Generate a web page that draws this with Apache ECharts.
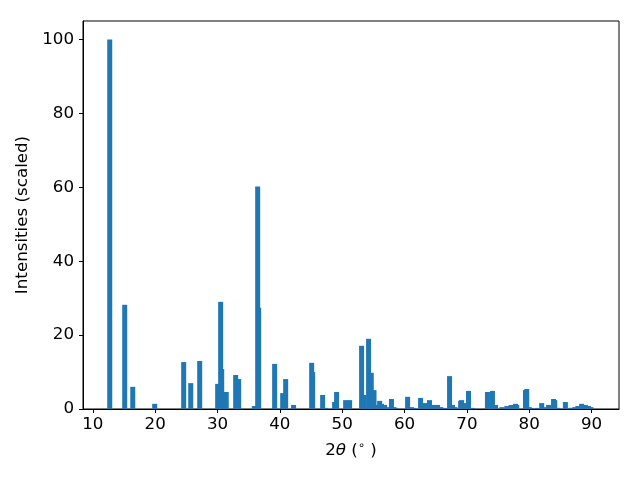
<!DOCTYPE html>
<html><head><meta charset="utf-8">
<script src="https://cdn.jsdelivr.net/npm/echarts@6/dist/echarts.min.js"></script>
<style>html,body{margin:0;padding:0;background:#fff}#c{width:640px;height:480px}</style>
</head><body><div id="c"></div>
<script>
const angles = [12.71,15.11,16.4,19.92,24.57,25.7,27.14,30.02,30.5,30.67,31.0,31.4,32.91,33.39,35.9,36.44,36.6,39.16,40.45,40.93,42.2,45.1,45.26,46.86,47.34,48.78,49.1,50.55,51.19,53.11,53.5,54.23,54.66,55.1,55.5,56.0,56.3,56.8,57.2,57.9,58.3,58.6,60.49,61.1,61.5,62.57,63.2,64.0,64.8,65.3,65.8,66.4,67.22,67.7,68.1,69.0,69.15,69.5,70.26,70.9,73.3,74.1,74.6,75.6,76.4,77.1,77.8,78.0,79.4,79.6,80.0,80.4,81.3,82.0,82.6,83.1,83.9,84.1,84.6,85.8,86.3,86.8,87.3,87.8,88.4,89.0,89.5,89.9];
const intensities = [100,28.2,6.0,1.4,12.7,7.0,13.0,6.8,29.0,10.8,4.6,4.6,9.2,8.1,0.8,60.2,27.4,12.2,4.3,8.1,1.1,12.5,10.0,3.8,0.3,1.9,4.6,2.4,2.4,17.1,3.8,19.0,9.8,5.1,1.1,2.2,1.4,1.1,0.5,2.7,0.5,0.3,3.3,0.5,0.3,3.0,1.6,2.4,1.1,1.1,0.5,0.3,8.9,1.1,0.5,2.2,2.4,1.6,4.9,0.3,4.6,4.9,1.1,0.5,0.8,1.1,1.4,1.1,5.1,5.4,0.5,0.3,0.3,1.6,0.5,1.1,2.7,2.4,0.3,1.9,0.3,0.3,0.5,0.8,1.4,1.1,0.8,0.5];
const xTicks = [10,20,30,40,50,60,70,80,90];
const yTicks = [0,20,40,60,80,100];

const font = 'DejaVu Sans';
const fs = 16.7;
const chart = echarts.init(document.getElementById('c'), null, {renderer:'canvas'});
chart.setOption({
  animation:false,
  grid:{left:83,right:21,top:21,bottom:71,show:true,borderColor:'#000',borderWidth:1,backgroundColor:'transparent'},
  xAxis:{type:'value',min:8.42,max:94.4,
    axisLine:{show:true,onZero:false,lineStyle:{color:'#000',width:1}},
    axisTick:{show:true,length:4,inside:false,customValues:xTicks,lineStyle:{color:'#000'}},
    axisLabel:{customValues:xTicks,color:'#000',fontFamily:font,fontSize:fs,margin:7},
    splitLine:{show:false},
    name:'{n|2}{i|θ}{n| (}{s|∘}{n| )}',nameLocation:'middle',nameGap:31,
    nameTextStyle:{rich:{n:{fontFamily:font,fontSize:fs,color:'#000'},i:{fontFamily:font,fontStyle:'italic',fontSize:fs,color:'#000'},s:{fontFamily:font,fontSize:11.5,color:'#000',padding:[0,0,9,0]}}}
  },
  yAxis:{type:'value',min:0,max:105,
    axisLine:{show:true,lineStyle:{color:'#000',width:1}},
    axisTick:{show:true,length:4,customValues:yTicks,lineStyle:{color:'#000'}},
    axisLabel:{customValues:yTicks,color:'#000',fontFamily:font,fontSize:fs,margin:9},
    splitLine:{show:false},
    name:'Intensities (scaled)',nameLocation:'middle',nameGap:46,
    nameTextStyle:{fontFamily:font,fontSize:fs,color:'#000'}
  },
  series:[{type:'bar',barWidth:5,itemStyle:{color:'#1f77b4'},
    data:angles.map((a,i)=>[a,intensities[i]])}]
});
</script></body></html>
